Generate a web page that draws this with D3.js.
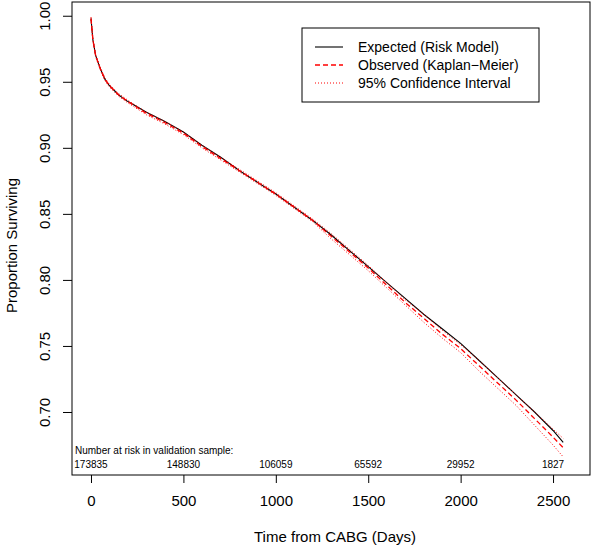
<!DOCTYPE html>
<html>
<head>
<meta charset="utf-8">
<script src="https://cdn.jsdelivr.net/npm/d3@7"></script>
<style>
  html, body { margin: 0; padding: 0; background: #fff; }
  svg { display: block; font-family: "Liberation Sans", Arial, sans-serif; }
</style>
</head>
<body>
<svg id="chart" width="600" height="547"></svg>
<script>
// ---- data ----
const days = [0, 10, 25, 50, 75, 100, 150, 200, 300, 400, 500, 600, 700, 800, 900, 1000,
  1100, 1200, 1300, 1400, 1500, 1600, 1700, 1800, 1900, 2000, 2100, 2200, 2300, 2400, 2500, 2555];
const expected = [0.998, 0.982, 0.970, 0.960, 0.952, 0.947, 0.940, 0.935, 0.927, 0.920, 0.912, 0.902,
  0.893, 0.883, 0.874, 0.865, 0.855, 0.845, 0.834, 0.822, 0.810, 0.798, 0.786, 0.774, 0.763, 0.752,
  0.739, 0.726, 0.713, 0.700, 0.686, 0.677];
const observed = [0.998, 0.982, 0.970, 0.960, 0.952, 0.947, 0.940, 0.935, 0.926, 0.919, 0.911, 0.901,
  0.892, 0.883, 0.874, 0.865, 0.855, 0.845, 0.833, 0.821, 0.809, 0.796, 0.783, 0.771, 0.759, 0.748,
  0.735, 0.722, 0.709, 0.695, 0.681, 0.673];
const ciLower = [0.997, 0.981, 0.969, 0.959, 0.951, 0.946, 0.939, 0.934, 0.925, 0.918, 0.910, 0.900,
  0.891, 0.882, 0.873, 0.864, 0.854, 0.844, 0.831, 0.819, 0.807, 0.794, 0.781, 0.768, 0.756, 0.745,
  0.731, 0.718, 0.705, 0.690, 0.675, 0.666];
const ciUpper = [0.999, 0.983, 0.971, 0.961, 0.953, 0.948, 0.941, 0.936, 0.927, 0.920, 0.912, 0.902,
  0.893, 0.884, 0.875, 0.866, 0.856, 0.846, 0.835, 0.823, 0.811, 0.798, 0.785, 0.774, 0.762, 0.751,
  0.739, 0.726, 0.713, 0.700, 0.687, 0.680];
const xTicks = [0, 500, 1000, 1500, 2000, 2500];
const yTicks = [0.70, 0.75, 0.80, 0.85, 0.90, 0.95, 1.00];
const atRisk = [173835, 148830, 106059, 65592, 29952, 1827];
const legendLabels = ["Expected (Risk Model)", "Observed (Kaplan\u2212Meier)", "95% Confidence Interval"];

// ---- layout ----
const svg = d3.select("#chart");
const box = { left: 72, right: 590, top: 2, bottom: 475 };
const x = d3.scaleLinear().domain([-102.8, 2700]).range([box.left, box.right]);
const y = d3.scaleLinear().domain([0.6523, 1.0104]).range([box.bottom, box.top]);

const lineGen = vals => d3.line().x((d, i) => x(days[i])).y(d => y(d))(vals);

// expected
svg.append("path").attr("d", lineGen(expected)).attr("fill", "none")
  .attr("stroke", "#000").attr("stroke-width", 1.1);
// CI lines
[ciLower, ciUpper].forEach(v => {
  svg.append("path").attr("d", lineGen(v)).attr("fill", "none")
    .attr("stroke", "#ff0000").attr("stroke-width", 1).attr("stroke-dasharray", "1,2");
});
// observed
svg.append("path").attr("d", lineGen(observed)).attr("fill", "none")
  .attr("stroke", "#ff0000").attr("stroke-width", 1.3).attr("stroke-dasharray", "5,3");

// plot box
svg.append("rect").attr("x", box.left).attr("y", box.top)
  .attr("width", box.right - box.left).attr("height", box.bottom - box.top)
  .attr("fill", "none").attr("stroke", "#000").attr("stroke-width", 1);

// x axis
const gx = svg.append("g").attr("transform", `translate(0,${box.bottom})`)
  .call(d3.axisBottom(x).tickValues(xTicks).tickSize(8).tickPadding(12).tickFormat(d3.format("d")));
gx.select(".domain").remove();
gx.selectAll("text").attr("font-size", 15).attr("font-family", "Liberation Sans, Arial, sans-serif");

// y axis
const gy = svg.append("g").attr("transform", `translate(${box.left},0)`)
  .call(d3.axisLeft(y).tickValues(yTicks).tickSize(9).tickFormat(d3.format(".2f")));
gy.select(".domain").remove();
gy.selectAll(".tick text")
  .attr("font-size", 15).attr("font-family", "Liberation Sans, Arial, sans-serif")
  .attr("transform", "rotate(-90)").attr("x", 0).attr("y", -27)
  .attr("dy", "0.35em").attr("text-anchor", "middle");

// axis titles
svg.append("text").attr("x", (box.left + box.right) / 2 + 4).attr("y", 542)
  .attr("text-anchor", "middle").attr("font-size", 15).text("Time from CABG (Days)");
svg.append("text").attr("transform", `translate(17,${(box.top + box.bottom) / 2 + 7}) rotate(-90)`)
  .attr("text-anchor", "middle").attr("font-size", 15).text("Proportion Surviving");

// number at risk
svg.append("text").attr("x", 75).attr("y", 454).attr("font-size", 10)
  .text("Number at risk in validation sample:");
svg.selectAll(".risk").data(atRisk).join("text").attr("class", "risk")
  .attr("x", (d, i) => x(xTicks[i])).attr("y", 468).attr("text-anchor", "middle")
  .attr("font-size", 10).text(d => d);

// legend
const lg = svg.append("g");
lg.append("rect").attr("x", 302).attr("y", 28).attr("width", 237).attr("height", 74)
  .attr("fill", "#fff").attr("stroke", "#000").attr("stroke-width", 1);
const lstyles = [
  { c: "#000", w: 1.1, da: null },
  { c: "#ff0000", w: 1.3, da: "5,3" },
  { c: "#ff0000", w: 1, da: "1,2" }
];
legendLabels.forEach((lab, i) => {
  const yy = 47 + i * 18;
  lg.append("line").attr("x1", 315).attr("x2", 343).attr("y1", yy).attr("y2", yy)
    .attr("stroke", lstyles[i].c).attr("stroke-width", lstyles[i].w)
    .attr("stroke-dasharray", lstyles[i].da);
  lg.append("text").attr("x", 358).attr("y", yy).attr("dy", "0.35em")
    .attr("font-size", 14).text(lab);
});
</script>
</body>
</html>
